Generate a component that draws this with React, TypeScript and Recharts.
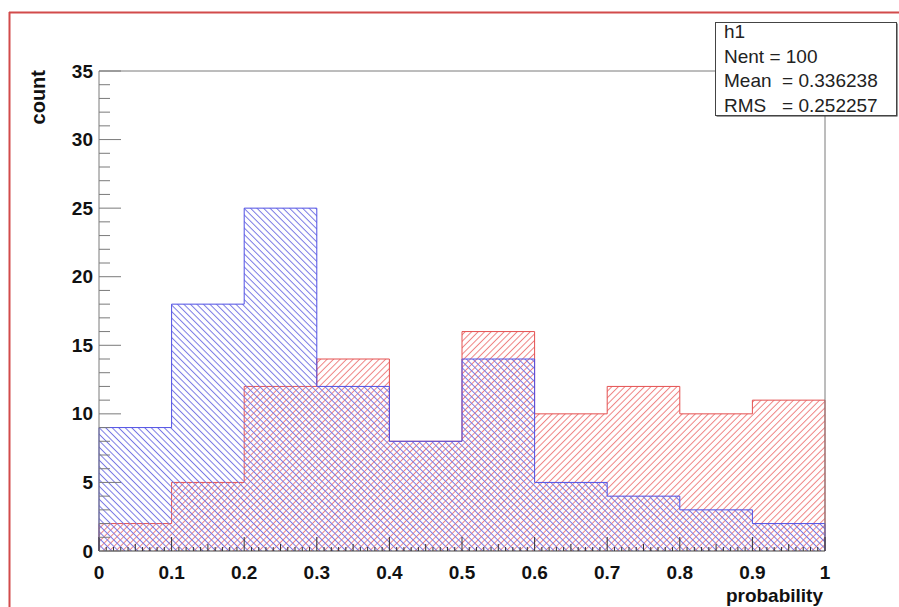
import React from 'react';
import { ComposedChart, Area, XAxis, YAxis, ReferenceLine } from 'recharts';

// ---- data ----
const binEdges = [0, 0.1, 0.2, 0.3, 0.4, 0.5, 0.6, 0.7, 0.8, 0.9, 1];
const blueCounts = [9, 18, 25, 12, 8, 14, 5, 4, 3, 2];
const redCounts = [2, 5, 12, 14, 8, 16, 10, 12, 10, 11];
const xTickLabels = ['0', '0.1', '0.2', '0.3', '0.4', '0.5', '0.6', '0.7', '0.8', '0.9', '1'];
const yTickLabels = ['0', '5', '10', '15', '20', '25', '30', '35'];
const statsLines = ['h1', 'Nent = 100', 'Mean  = 0.336238', 'RMS   = 0.252257'];
const xTitle = 'probability';
const yTitle = 'count';

// step-histogram points (closed down to zero at both ends)
const data: { x: number; red: number; blue: number }[] = [{ x: binEdges[0], red: 0, blue: 0 }];
for (let i = 0; i < blueCounts.length; i++) {
  data.push({ x: binEdges[i], red: redCounts[i], blue: blueCounts[i] });
}
data.push({ x: binEdges[binEdges.length - 1], red: redCounts[redCounts.length - 1], blue: blueCounts[blueCounts.length - 1] });
data.push({ x: binEdges[binEdges.length - 1], red: 0, blue: 0 });

const xTicks: number[] = [];
for (let i = 0; i <= 100; i++) xTicks.push(i / 100);
const yTicks: number[] = [];
for (let i = 0; i <= 35; i++) yTicks.push(i);

const W = 899;
const H = 607;
const FONT = '"Liberation Sans", Arial, Helvetica, sans-serif';
const Y_MARGIN = 6;
const X_MARGIN = 4;
const AXIS_GRAY = '#7a7a7a';

const YTick = (props: any) => {
  const { x, y, payload } = props;
  const ax = x + Y_MARGIN;
  const v = Math.round(payload.value);
  const major = v % 5 === 0;
  return (
    <g>
      <line x1={ax} x2={ax + (major ? 22 : 11)} y1={y} y2={y} stroke={AXIS_GRAY} strokeWidth={1} />
      {major && (
        <text x={ax - 6} y={y} textAnchor="end" dominantBaseline="central" fontFamily={FONT} fontWeight="bold" fontSize={19} fill="#111">
          {yTickLabels[v / 5]}
        </text>
      )}
    </g>
  );
};

const XTick = (props: any) => {
  const { x, y, payload } = props;
  const ay = y - X_MARGIN;
  const i = Math.round(payload.value * 100);
  const major = i % 10 === 0;
  const len = major ? 14 : i % 5 === 0 ? 7 : 4;
  return (
    <g>
      <line x1={x} x2={x} y1={ay} y2={ay - len} stroke="#333" strokeWidth={1} />
      {major && (
        <text x={x} y={ay + 28} textAnchor="middle" fontFamily={FONT} fontWeight="bold" fontSize={19} fill="#111">
          {xTickLabels[i / 10]}
        </text>
      )}
    </g>
  );
};

export default function App() {
  return (
    <div style={{ position: 'absolute', left: 0, top: 0, width: W, height: H, overflow: 'hidden', background: '#fff', fontFamily: FONT }}>
      <ComposedChart width={W} height={H} data={data} margin={{ top: 71, right: 74, bottom: 26, left: 39 }}>
        <defs>
          <pattern id="hatchRed" patternUnits="userSpaceOnUse" width={4.6} height={4.6} patternTransform="rotate(45)">
            <line x1={2.3} y1={0} x2={2.3} y2={4.6} stroke="rgb(238,130,130)" strokeWidth={1} />
          </pattern>
          <pattern id="hatchBlue" patternUnits="userSpaceOnUse" width={4.6} height={4.6} patternTransform="rotate(-45)">
            <line x1={2.3} y1={0} x2={2.3} y2={4.6} stroke="rgb(120,120,228)" strokeWidth={1} />
          </pattern>
        </defs>
        <XAxis
          dataKey="x"
          type="number"
          domain={[0, 1]}
          ticks={xTicks}
          interval={0}
          tickSize={0}
          tickMargin={X_MARGIN}
          tickLine={false}
          axisLine={{ stroke: '#444' }}
          tick={<XTick />}
          height={30}
        />
        <YAxis
          type="number"
          domain={[0, 35]}
          ticks={yTicks}
          interval={0}
          tickSize={0}
          tickMargin={Y_MARGIN}
          tickLine={false}
          axisLine={{ stroke: AXIS_GRAY }}
          tick={<YTick />}
          width={60}
        />
        <Area
          type="stepAfter"
          dataKey="red"
          stroke="rgb(228,80,80)"
          strokeWidth={1}
          fill="url(#hatchRed)"
          fillOpacity={1}
          dot={false}
          activeDot={false}
          isAnimationActive={false}
        />
        <Area
          type="stepAfter"
          dataKey="blue"
          stroke="rgb(80,80,228)"
          strokeWidth={1}
          fill="url(#hatchBlue)"
          fillOpacity={1}
          dot={false}
          activeDot={false}
          isAnimationActive={false}
        />
        <ReferenceLine y={35} stroke={AXIS_GRAY} strokeWidth={1} />
        <ReferenceLine x={1} stroke={AXIS_GRAY} strokeWidth={1} />
      </ComposedChart>
      <svg width={W} height={H} style={{ position: 'absolute', left: 0, top: 0, pointerEvents: 'none' }}>
        <line x1={9} y1={12.5} x2={W} y2={12.5} stroke="rgb(210,75,75)" strokeWidth={2} />
        <line x1={9.5} y1={12} x2={9.5} y2={H} stroke="rgb(210,75,75)" strokeWidth={2} />
        <text x={45} y={70} transform="rotate(-90 45 70)" textAnchor="end" fontFamily={FONT} fontWeight="bold" fontSize={20} fill="#111">
          {yTitle}
        </text>
        <text x={823} y={602} textAnchor="end" fontFamily={FONT} fontWeight="bold" fontSize={19} fill="#111">
          {xTitle}
        </text>
        <rect x={716.5} y={23.5} width={181} height={93} fill="#333" />
        <rect x={715.5} y={22.5} width={181} height={93} fill="#fff" stroke="#444" strokeWidth={1} />
        {statsLines.map((s, i) => (
          <text key={i} x={724} y={38 + i * 24.5} fontFamily={FONT} fontSize={19} fill="#222" style={{ whiteSpace: 'pre' }}>
            {s}
          </text>
        ))}
      </svg>
    </div>
  );
}
